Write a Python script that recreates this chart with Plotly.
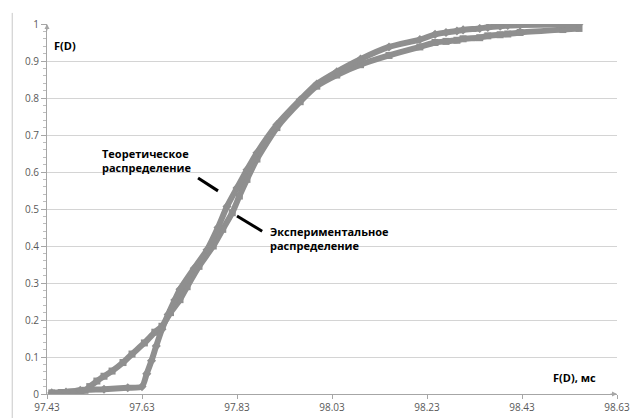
import plotly.graph_objects as go

# Series B: "theoretical" (diamond markers, steeper, higher at the top)
theor_x = [97.44, 97.47, 97.50, 97.55, 97.60, 97.63, 97.64, 97.65, 97.66, 97.672,
           97.685, 97.699, 97.71, 97.74, 97.767, 97.79, 97.809, 97.83, 97.851, 97.872,
           97.914, 97.963, 97.998, 98.04, 98.09, 98.15, 98.215, 98.247, 98.27, 98.293,
           98.306, 98.341, 98.358, 98.384, 98.40, 98.426, 98.516, 98.55]
theor_y = [0.003, 0.005, 0.010, 0.013, 0.017, 0.020, 0.055, 0.090, 0.130, 0.175,
           0.215, 0.254, 0.283, 0.340, 0.390, 0.450, 0.507, 0.557, 0.606, 0.652,
           0.728, 0.795, 0.838, 0.871, 0.905, 0.938, 0.958, 0.972, 0.977, 0.981,
           0.984, 0.988, 0.991, 0.994, 0.996, 0.997, 0.999, 1.000]

# Series A: "experimental" (square markers, gradual start, lower at the top)
exp_x = [97.44, 97.46, 97.48, 97.50, 97.51, 97.52, 97.535, 97.55, 97.567, 97.59,
         97.609, 97.635, 97.657, 97.672, 97.69, 97.71, 97.725, 97.75, 97.78, 97.80,
         97.82, 97.835, 97.851, 97.872, 97.914, 97.963, 97.998, 98.04, 98.09, 98.15,
         98.215, 98.247, 98.27, 98.293, 98.306, 98.341, 98.358, 98.384, 98.40, 98.426,
         98.516, 98.55]
exp_y = [0.003, 0.004, 0.005, 0.007, 0.010, 0.020, 0.035, 0.048, 0.062, 0.085,
         0.108, 0.138, 0.167, 0.183, 0.220, 0.255, 0.290, 0.345, 0.400, 0.445,
         0.490, 0.535, 0.580, 0.635, 0.720, 0.790, 0.832, 0.862, 0.890, 0.915,
         0.938, 0.950, 0.953, 0.956, 0.960, 0.963, 0.968, 0.971, 0.973, 0.977,
         0.985, 0.988]

x_ticks = [97.43, 97.63, 97.83, 98.03, 98.23, 98.43, 98.63]
y_ticks = [0, 0.1, 0.2, 0.3, 0.4, 0.5, 0.6, 0.7, 0.8, 0.9, 1]

GRAY = "#8f8f8f"
FONT = "Open Sans"

fig = go.Figure()
fig.add_trace(go.Scatter(x=exp_x, y=exp_y, mode="lines+markers",
                         line=dict(color=GRAY, width=6, shape="spline", smoothing=0.6),
                         marker=dict(symbol="square", size=7, color=GRAY),
                         showlegend=False))
fig.add_trace(go.Scatter(x=theor_x, y=theor_y, mode="lines+markers",
                         line=dict(color=GRAY, width=6, shape="spline", smoothing=0.6),
                         marker=dict(symbol="diamond", size=7, color=GRAY),
                         showlegend=False))

fig.update_layout(
    width=634, height=418,
    margin=dict(l=47, r=17, t=24, b=24, autoexpand=False),
    paper_bgcolor="white", plot_bgcolor="white",
    font=dict(family=FONT, size=10, color="#595959"),
    hovermode=False,
    xaxis=dict(range=[97.43, 98.63], tickvals=x_ticks,
               ticktext=[f"{v:.2f}" for v in x_ticks],
               showgrid=False, zeroline=False, showline=True,
               linecolor="#a6a6a6", linewidth=1,
               ticks="outside", ticklen=4, tickcolor="#a6a6a6",
               tickfont=dict(size=10, color="#595959")),
    yaxis=dict(range=[0, 1], tickvals=y_ticks,
               ticktext=[("0" if v == 0 else ("1" if v == 1 else f"{v:.1f}")) for v in y_ticks],
               showgrid=True, gridcolor="#d4d4d4", gridwidth=1,
               zeroline=False, showline=True, linecolor="#a6a6a6", linewidth=1,
               ticks="outside", ticklen=5, tickcolor="#a6a6a6",
               minor=dict(dtick=0.02, ticks="outside", ticklen=3, tickcolor="#bdbdbd",
                          showgrid=False),
               tickfont=dict(size=10, color="#595959")),
)

annos = [
    dict(x=97.44, y=0.943, text="<b>F(D)</b>", xanchor="left", yanchor="middle",
         font=dict(size=11, color="#000000")),
    dict(x=98.59, y=0.045, text="<b>F(D), мс</b>", xanchor="right", yanchor="middle",
         font=dict(size=11, color="#000000")),
    dict(x=97.542, y=0.63, text="<b>Теоретическое<br>распределение</b>", xanchor="left",
         yanchor="middle", align="left", font=dict(size=11, color="#000000")),
    dict(x=97.895, y=0.42, text="<b>Экспериментальное<br>распределение</b>", xanchor="left",
         yanchor="middle", align="left", font=dict(size=11, color="#000000")),
]
for a in annos:
    a.update(xref="x", yref="y", showarrow=False)
fig.update_layout(annotations=annos)

# axis arrowheads
fig.add_annotation(xref="paper", yref="paper", x=0, y=1.0, ax=0, ay=8, text="",
                   showarrow=True, arrowhead=2, arrowsize=1, arrowwidth=1, arrowcolor="#a6a6a6")
fig.add_annotation(xref="paper", yref="paper", x=1.0, y=0, ax=-8, ay=0, text="",
                   showarrow=True, arrowhead=2, arrowsize=1, arrowwidth=1, arrowcolor="#a6a6a6")

# leader lines
fig.add_shape(type="line", xref="x", yref="y", x0=97.748, y0=0.584, x1=97.79, y1=0.549,
              line=dict(color="#000000", width=3))
fig.add_shape(type="line", xref="x", yref="y", x0=97.83, y0=0.481, x1=97.883, y1=0.44,
              line=dict(color="#000000", width=3))

# outer left border line
fig.add_shape(type="line", xref="paper", yref="paper", x0=-0.061, x1=-0.061,
              y0=-0.065, y1=1.03, line=dict(color="#c8c8c8", width=1))

fig.write_html("out.html",
               config={"displayModeBar": False, "staticPlot": True},
               post_script="document.body.style.margin='0';document.body.style.overflow='hidden';")
